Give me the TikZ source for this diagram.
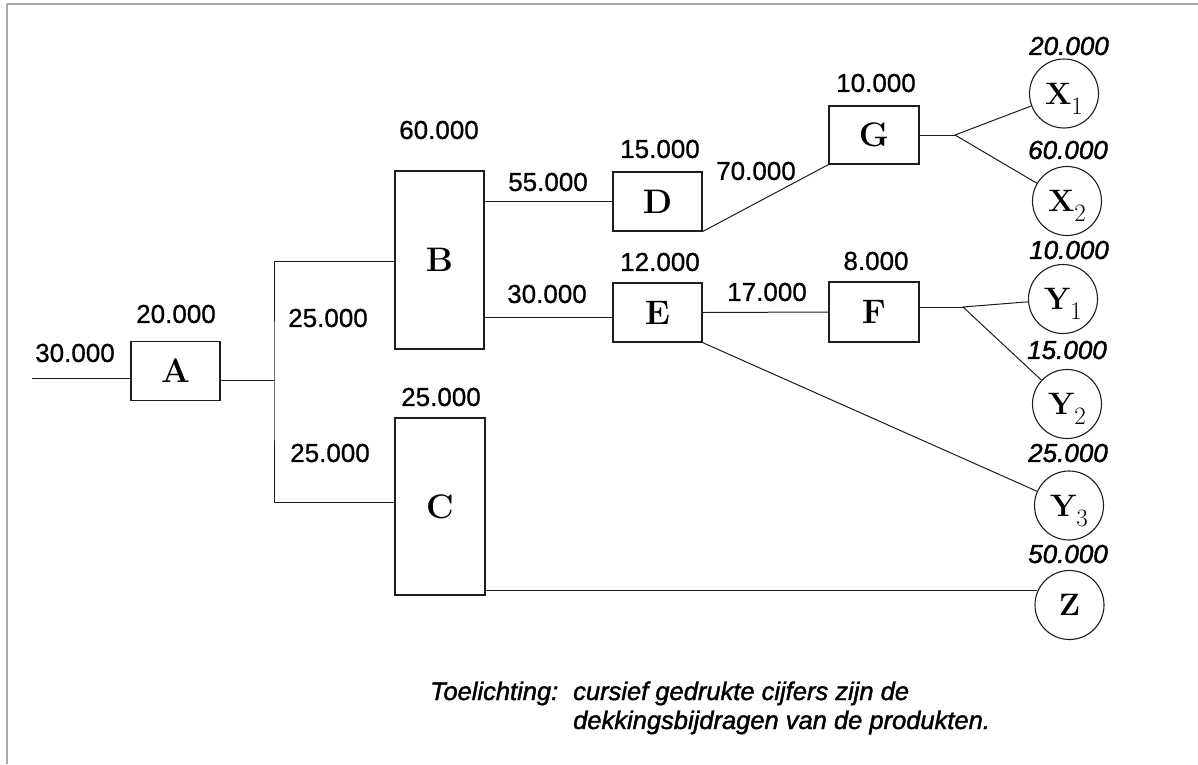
\documentclass[tikz,border=0pt]{standalone}
\usepackage{fontspec}
\newfontfamily\hv[FakeBold=0.8]{Liberation Sans}
\newfontfamily\hvi[FakeBold=1.6]{Liberation Sans Italic}
\definecolor{ink}{HTML}{1E1E1E}
\definecolor{rim}{HTML}{A8A8A8}
\newcommand\prodsub[1]{\raisebox{-10pt}{\fontsize{25}{25}\selectfont\mdseries #1}}
\tikzset{
  stage/.style={draw=ink, line width=1.1pt, rectangle, minimum width=89pt,
    minimum height=59pt, inner sep=0pt, font=\fontsize{34}{34}\selectfont\bfseries},
  prod/.style={draw=ink, line width=1.1pt, circle, minimum size=69pt, inner sep=0pt,
    text depth=0pt, font=\fontsize{31}{31}\selectfont\bfseries},
  num/.style={inner sep=0pt, font=\hv\fontsize{26}{26}\selectfont},
  dek/.style={inner sep=0pt, font=\hvi\fontsize{26}{26}\selectfont},
  note/.style={inner sep=0pt, anchor=base west, font=\hvi\fontsize{25.5}{25.5}\selectfont},
  wire/.style={draw=ink, line width=1pt},
}
\begin{document}
\begin{tikzpicture}[x=1pt,y=-1pt]
\useasboundingbox (0,0) rectangle (1198,764);
\fill[white] (0,0) rectangle (1198,764);
% page rim
\draw[rim, line width=1.5pt] (7,4) -- (1198,4);
\draw[rim, line width=2pt] (7,4) -- (7,764);

% process stages
\node[stage] (A) at (175.5,371) {A};
\node[stage, minimum height=178pt] (B) at (439.5,260) {B};
\node[stage, minimum width=90pt, minimum height=177pt] (C) at (440,506.5) {C};
\node[stage] (D) at (657.5,201.5) {D};
\node[stage] (E) at (657.5,312.5) {E};
\node[stage, minimum width=90pt, minimum height=58pt] (G) at (874,135) {G};
\node[stage, minimum width=90pt, minimum height=60pt] (F) at (874,312) {F};

% end products
\node[prod] (X1) at (1064,93.5) {X\prodsub{1}};
\node[prod] (X2) at (1067,201) {X\prodsub{2}};
\node[prod] (Y1) at (1063,299) {Y\prodsub{1}};
\node[prod] (Y2) at (1067,404) {Y\prodsub{2}};
\node[prod] (Y3) at (1069,505.5) {Y\prodsub{3}};
\node[prod] (Z) at (1069.5,605) {Z};

% split points
\coordinate (in) at (32,378);
\coordinate (ab) at (274,380);
\coordinate (gs) at (955,135);
\coordinate (fs) at (963,307);

% connectors
\draw[wire] (in) -- (in -| A.west);
\draw[wire] (A.east |- ab) -- (ab);
\draw[wire] (B.west |- 0,261) -| (ab) |- (C.west |- 0,502);
\draw[wire] (B.east |- D.west) -- (D.west);
\draw[wire] (B.east |- 0,317) -- (E.west |- 0,317);
\draw[wire] (D.south east) -- (G.south west);
\draw[wire] (E.east) -- (F.west);
\draw[wire] (E.south east) -- (Y3);
\draw[wire] (G.east) -- (gs);
\draw[wire] (X1) -- (gs) -- (X2);
\draw[wire] (F.east |- fs) -- (fs);
\draw[wire] (Y1) -- (fs) -- (Y2);
\draw[wire] (Z.156) -- (Z.156 -| C.east);

% quantities
\node[num] at (75,353) {30.000};
\node[num] at (176,314) {20.000};
\node[num] at (328,318) {25.000};
\node[num] at (330,453) {25.000};
\node[num] at (439,130) {60.000};
\node[num] at (441,397) {25.000};
\node[num] at (548,182) {55.000};
\node[num] at (660,149) {15.000};
\node[num] at (547,294) {30.000};
\node[num] at (660,262) {12.000};
\node[num] at (756,171) {70.000};
\node[num] at (876,83) {10.000};
\node[num] at (767,292) {17.000};
\node[num] at (876,261) {8.000};

% contribution margins of the products
\node[dek] at (1069,46) {20.000};
\node[dek] at (1068,150) {60.000};
\node[dek] at (1069,250) {10.000};
\node[dek] at (1067,350) {15.000};
\node[dek] at (1068,453) {25.000};
\node[dek] at (1068,554) {50.000};

% footnote
\node[note] (t0) at (430,700) {Toelichting:};
\node[note] (t1) at (573,700) {cursief gedrukte cijfers zijn de};
\node[note] (t2) at (573,729) {dekkingsbijdragen van de produkten.};
\end{tikzpicture}
\end{document}
